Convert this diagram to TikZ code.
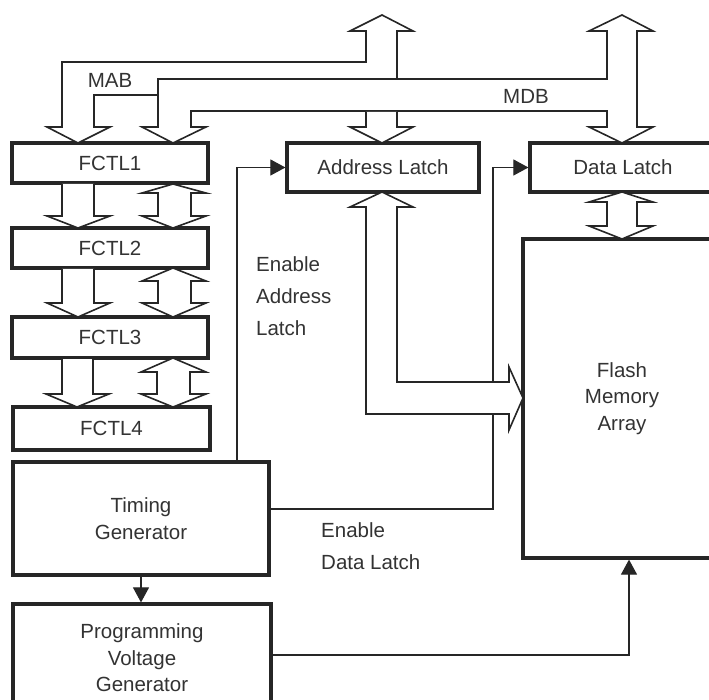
\documentclass[tikz,border=0pt]{standalone}
\usepackage{fontspec}
\setmainfont{Liberation Sans}
\usetikzlibrary{arrows.meta}
\begin{document}
\begin{tikzpicture}[x=1pt,y=-1pt,
  blk/.style={draw=black!85, line width=3.2pt, fill=white, inner sep=0pt, align=center,
    font=\fontsize{20.5}{26.5}\selectfont, text=black!80},
  bus/.style={draw=black!85, line width=1.6pt, fill=white, line join=miter},
  sig/.style={draw=black!85, line width=1.1pt, -{Triangle[length=15pt,width=16pt]}},
  lbl/.style={font=\fontsize{20.5}{32}\selectfont, text=black!80, align=left, inner sep=0pt},
  txt/.style={font=\fontsize{20.5}{24}\selectfont, text=black!80, inner sep=0pt}]
\useasboundingbox (0,0) rectangle (709,700);
\clip (0,0) rectangle (709,700);

% blocks
\node[blk, minimum width=196pt, minimum height=40pt] (f1) at (110,163) {FCTL1};
\node[blk, minimum width=196pt, minimum height=40pt] (f2) at (110,248) {FCTL2};
\node[blk, minimum width=196pt, minimum height=41pt] (f3) at (110,337.5) {FCTL3};
\node[blk, minimum width=197pt, minimum height=43pt] (f4) at (111.5,428.5) {FCTL4};
\node[blk, minimum width=256pt, minimum height=113pt] (tg) at (141,518.5) {Timing\\Generator};
\node[blk, minimum width=258pt, minimum height=108pt] (pvg) at (142,658) {Programming\\Voltage\\Generator};
\node[blk, minimum width=192pt, minimum height=49pt] (al) at (383,167.5) {Address Latch};
\node[blk, minimum width=186pt, minimum height=49pt] (dl) at (623,167.5) {Data Latch};
\node[blk, minimum width=198pt, minimum height=319pt] (fl) at (622,398.5) {Flash\\Memory\\Array};

% control signals
\coordinate (ea) at (237,0);
\draw[sig] (tg.north -| ea) |- (al.west);
\coordinate (ed) at (493,509);
\draw[sig] (tg.east |- ed) -- (ed) |- (dl.west);
\draw[sig] (tg.south) -- (tg.south |- pvg.north);
\coordinate (pv) at (629,655);
\draw[sig] (pvg.east |- pv) -| (fl.south -| pv);

% MAB bus
\draw[bus] (47,127) -- (78,143) -- (110,127) -- (94,127) -- (94,95) -- (158,95) -- (158,79)
  -- (397,79) -- (397,31) -- (413,31) -- (382,15) -- (350,31) -- (366,31) -- (366,62)
  -- (62,62) -- (62,127) -- cycle;
% MDB bus
\draw[bus] (158,79) -- (607,79) -- (607,31) -- (589,31) -- (622,15) -- (653,31) -- (637,31)
  -- (637,127) -- (653,127) -- (622,143) -- (589,127) -- (607,127) -- (607,111)
  -- (191,111) -- (191,127) -- (206,127) -- (173,143) -- (142,127) -- (158,127) -- cycle;
% MAB into address latch
\draw[bus] (366,112) -- (366,127) -- (350,127) -- (382,143) -- (413,127) -- (397,127) -- (397,112);

% FCTL1 -> FCTL2
\draw[bus] (62,184) -- (62,216) -- (47,216) -- (78,228) -- (110,216) -- (94,216) -- (94,184);
\draw[bus] (173,184) -- (206,193) -- (191,193) -- (191,216) -- (206,216) -- (173,228)
  -- (142,216) -- (158,216) -- (158,193) -- (142,193) -- cycle;
% FCTL2 -> FCTL3
\draw[bus] (62,269) -- (62,303) -- (47,303) -- (78,317) -- (110,303) -- (94,303) -- (94,269);
\draw[bus] (173,268) -- (206,281) -- (191,281) -- (191,303) -- (206,303) -- (173,317)
  -- (142,303) -- (158,303) -- (158,281) -- (142,281) -- cycle;
% FCTL3 -> FCTL4
\draw[bus] (62,359) -- (62,394) -- (46,394) -- (77,407) -- (109,394) -- (93,394) -- (93,359);
\draw[bus] (173,358) -- (206,372) -- (190,372) -- (190,394) -- (206,394) -- (173,407)
  -- (141,394) -- (157,394) -- (157,372) -- (141,372) -- cycle;

% data latch <-> flash
\draw[bus] (622,192) -- (653,202) -- (637,202) -- (637,226) -- (653,226) -- (622,239)
  -- (589,226) -- (607,226) -- (607,202) -- (589,202) -- cycle;
% address latch -> flash
\draw[bus] (382,192) -- (413,207) -- (397,207) -- (397,382) -- (509,382) -- (509,367)
  -- (523,398) -- (509,430) -- (509,414) -- (366,414) -- (366,207) -- (350,207) -- cycle;

% labels
\node[txt] (mab) at (110,80) {MAB};
\node[txt] (mdb) at (526,96) {MDB};
\node[lbl, anchor=west] (eal) at (256,296) {Enable\\Address\\Latch};
\node[lbl, anchor=west] (edl) at (321,546) {Enable\\Data Latch};
\end{tikzpicture}
\end{document}
